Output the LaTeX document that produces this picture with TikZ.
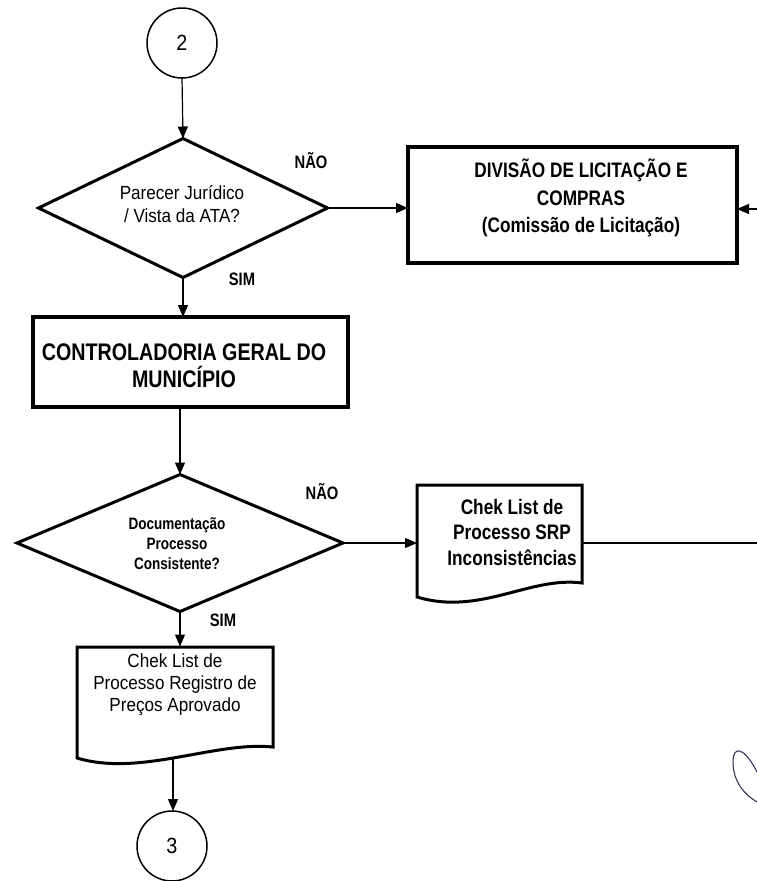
\documentclass[tikz,border=0pt]{standalone}
\usepackage{fontspec}
\setmainfont{Liberation Sans}
\newfontfamily\nb[FakeStretch=0.82]{Liberation Sans}
\newfontfamily\nr[FakeStretch=0.9]{Liberation Sans}
\usetikzlibrary{arrows.meta,shapes.geometric}
\begin{document}
\begin{tikzpicture}[x=1pt,y=-1pt,
  conn/.style={line width=1.2pt,-{Triangle[length=12pt,width=10pt]}},
  bigbox/.style={draw,line width=3.2pt,rectangle,inner sep=0pt,outer sep=0pt},
  decision/.style={draw,line width=3pt,diamond,inner sep=0pt,outer sep=0pt},
  docshape/.style={draw,line width=3pt,line join=miter},
  conncircle/.style={draw,line width=1.5pt,circle,minimum size=70pt,inner sep=0pt,outer sep=0pt,font=\nr\fontsize{22}{24}\selectfont},
  lbl/.style={font=\nb\bfseries\fontsize{18}{20}\selectfont,inner sep=0pt},
  txt/.style={align=center,inner sep=0pt}
]
\useasboundingbox (0,0) rectangle (757,881);
\fill[white] (0,0) rectangle (757,881);

% connector circles
\node[conncircle] (c2) at (182,43) {2};
\node[conncircle] (c3) at (172,846) {3};

% decision 1
\node[decision,minimum width=289pt,minimum height=139pt] (d1) at (183,208) {};
\node[txt,font=\nr\fontsize{19}{23}\selectfont] (d1t) at (182,204) {Parecer Jurídico\\/ Vista da ATA?};
\node[lbl] (n1) at (311,161) {NÃO};
\node[lbl] (s1) at (242,279) {SIM};

% box 1
\node[bigbox,minimum width=329pt,minimum height=116pt] (b1) at (572.5,205) {};
\node[txt,font=\nb\bfseries\fontsize{21}{27.5}\selectfont] (b1t) at (581,198) {DIVISÃO DE LICITAÇÃO E\\COMPRAS\\(Comissão de Licitação)};

% box 2
\node[bigbox,minimum width=315pt,minimum height=90pt] (b2) at (190.5,362) {};
\node[txt,font=\nb\bfseries\fontsize{24}{27}\selectfont] (b2t) at (184,366) {CONTROLADORIA GERAL DO\\MUNICÍPIO};

% decision 2
\node[decision,minimum width=326pt,minimum height=137pt] (d2) at (180,543) {};
\node[txt,font=\nb\bfseries\fontsize{16.5}{20}\selectfont] (d2t) at (177,544) {Documentação\\Processo\\Consistente?};
\node[lbl] (n2) at (322,492) {NÃO};
\node[lbl] (s2) at (223,620) {SIM};

% document SRP
\node[minimum width=165pt,minimum height=112pt,inner sep=0pt,outer sep=0pt] (doc1) at (499.5,541) {};
\draw[docshape] (417,485) -- (582,485) -- (582,583) .. controls (530,576) and (480,616) .. (417,597) -- cycle;
\node[txt,font=\nb\bfseries\fontsize{21}{25.5}\selectfont] (doc1t) at (512,532) {Chek List de\\Processo SRP\\Inconsistências};

% document approved
\node[minimum width=196pt,minimum height=111pt,inner sep=0pt,outer sep=0pt] (doc2) at (175,702) {};
\draw[docshape] (77,647) -- (273,647) -- (273,747) .. controls (215,741) and (140,777) .. (77,758) -- cycle;
\node[txt,font=\nr\fontsize{19}{22}\selectfont] (doc2t) at (175,685) {Chek List de\\Processo Registro de\\Preços Aprovado};
\coordinate (doc2b) at (173,759);

% connectors
\draw[conn] (c2.south) -- (d1.north);
\draw[conn] (d1.east) -- (b1.west |- d1.east);
\draw[conn] (d1.south) -- (d1.south |- b2.north);
\draw[conn] (b2.south -| d2.north) -- (d2.north);
\draw[conn] (d2.east) -- (doc1.west |- d2.east);
\draw[conn] (d2.south) -- (d2.south |- doc2.north);
\draw[conn] (doc2b) -- (doc2b |- c3.north);
\coordinate (rt1) at (762,543);
\coordinate (rt2) at (762,209);
\draw[conn] (doc1.east |- rt1) -- (rt1) -- (rt2) -- (b1.east |- rt2);

% signature mark
\draw[line width=1pt,color={rgb,255:red,40;green,40;blue,80}] (757,772) .. controls (745,748) and (733,744) .. (733,762) .. controls (733,782) and (745,795) .. (757,802);
\end{tikzpicture}
\end{document}
